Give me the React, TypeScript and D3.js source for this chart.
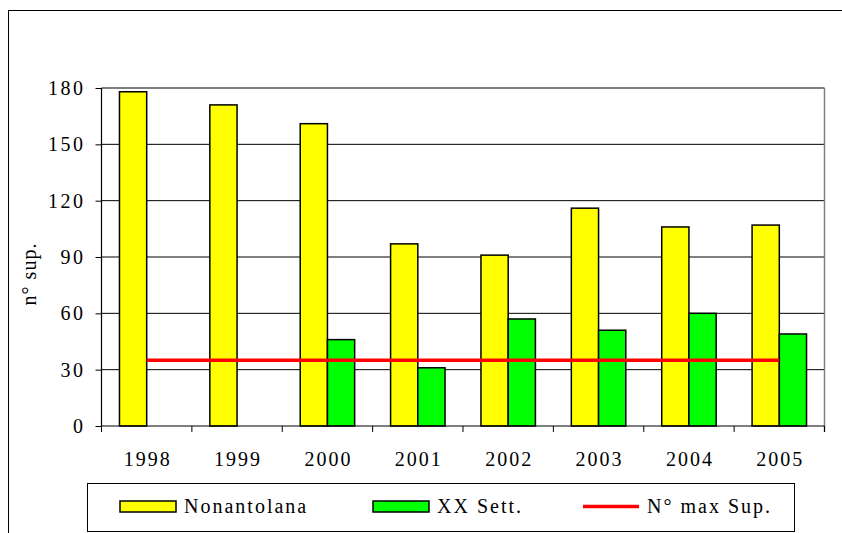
import React, { useEffect, useRef } from 'react';
import * as d3 from 'd3';

const years = ['1998', '1999', '2000', '2001', '2002', '2003', '2004', '2005'];
const nonantolana = [178, 171, 161, 97, 91, 116, 106, 107];
const xxSett: (number | null)[] = [null, null, 46, 31, 57, 51, 60, 49];
const maxSup = [35, 35, 35, 35, 35, 35, 35, 35];
const yTicks = [0, 30, 60, 90, 120, 150, 180];

const seriesNames = ['Nonantolana', 'XX Sett.'];
const seriesColors = ['#ffff00', '#00ff00'];
const lineName = 'N° max Sup.';
const lineColor = '#ff0000';

const W = 842;
const H = 533;
const FONT = 'Liberation Serif, Tinos, DejaVu Serif, serif';

const App: React.FC = () => {
  const svgRef = useRef<SVGSVGElement>(null);

  useEffect(() => {
    if (!svgRef.current) return;
    document.body.style.margin = '0';

    const svg = d3.select(svgRef.current);
    svg.selectAll('*').remove();
    svg.attr('font-family', FONT);

    const plot = { left: 101.5, right: 824.5, top: 88, bottom: 426 };

    // outer chart frame (runs off the right edge)
    svg.append('rect')
      .attr('x', 8.5).attr('y', 10.5)
      .attr('width', W).attr('height', H)
      .attr('fill', 'white')
      .attr('stroke', '#000').attr('stroke-width', 1);

    const x0 = d3.scaleBand<string>()
      .domain(years)
      .range([plot.left, plot.right]);

    const x1 = d3.scaleBand<string>()
      .domain(seriesNames)
      .range([0, x0.bandwidth()])
      .paddingInner(0)
      .paddingOuter(0.66);

    const y = d3.scaleLinear()
      .domain([0, 180])
      .range([plot.bottom, plot.top]);

    // gridlines
    svg.append('g')
      .selectAll('line')
      .data(yTicks.filter(t => t > 0))
      .enter().append('line')
      .attr('x1', plot.left).attr('x2', plot.right)
      .attr('y1', d => y(d)).attr('y2', d => y(d))
      .attr('stroke', '#000').attr('stroke-width', 1);

    // right border of plot area
    svg.append('line')
      .attr('x1', plot.right).attr('x2', plot.right)
      .attr('y1', plot.top).attr('y2', plot.bottom + 6)
      .attr('stroke', '#808080').attr('stroke-width', 1.5);

    // bars
    const drawBars = (vals: (number | null)[], si: number) => {
      svg.append('g')
        .selectAll('rect')
        .data(years.map((yr, i) => ({ yr, v: vals[i] })).filter(d => d.v != null))
        .enter().append('rect')
        .attr('x', d => (x0(d.yr) || 0) + (x1(seriesNames[si]) || 0))
        .attr('y', d => y(d.v as number))
        .attr('width', x1.bandwidth())
        .attr('height', d => plot.bottom - y(d.v as number))
        .attr('fill', seriesColors[si])
        .attr('stroke', '#000')
        .attr('stroke-width', 1.5);
    };
    drawBars(nonantolana, 0);
    drawBars(xxSett, 1);

    // max line
    const line = d3.line<number>()
      .x((_, i) => (x0(years[i]) || 0) + x0.bandwidth() / 2)
      .y(d => y(d));
    svg.append('path')
      .datum(maxSup)
      .attr('d', line)
      .attr('fill', 'none')
      .attr('stroke', lineColor)
      .attr('stroke-width', 3.5);

    // y axis
    const yAxis = svg.append('g')
      .attr('transform', `translate(${plot.left},0)`)
      .call(d3.axisLeft(y).tickValues(yTicks).tickSize(6).tickPadding(8).tickFormat(d3.format('d')));
    yAxis.attr('font-family', FONT);
    yAxis.select('.domain').attr('stroke', '#000').attr('stroke-width', 1.2)
      .attr('d', `M0,${plot.top}V${plot.bottom}`);
    yAxis.selectAll('.tick line').attr('stroke', '#000');
    yAxis.selectAll('.tick text')
      .attr('fill', '#000')
      .attr('x', -16)
      .attr('font-family', FONT)
      .attr('font-size', 20)
      .attr('letter-spacing', 2.5);

    // x axis with ticks at category boundaries
    const xg = svg.append('g');
    xg.append('line')
      .attr('x1', plot.left).attr('x2', plot.right)
      .attr('y1', plot.bottom).attr('y2', plot.bottom)
      .attr('stroke', '#000').attr('stroke-width', 1.2);
    xg.selectAll('.xt')
      .data([...years.map(yr => x0(yr) || 0), plot.right])
      .enter().append('line')
      .attr('x1', d => d).attr('x2', d => d)
      .attr('y1', plot.bottom).attr('y2', plot.bottom + 6)
      .attr('stroke', '#000');
    xg.selectAll('text')
      .data(years)
      .enter().append('text')
      .attr('x', d => (x0(d) || 0) + x0.bandwidth() / 2 + 1)
      .attr('y', 466)
      .attr('text-anchor', 'middle')
      .attr('font-size', 20)
      .attr('letter-spacing', 2)
      .text(d => d);

    // y axis title
    svg.append('text')
      .attr('transform', `translate(36,274) rotate(-90)`)
      .attr('text-anchor', 'middle')
      .attr('font-size', 20)
      .attr('letter-spacing', 1)
      .text('n° sup.');

    // legend
    const lg = svg.append('g');
    lg.append('rect')
      .attr('x', 87.5).attr('y', 483.5)
      .attr('width', 707).attr('height', 48)
      .attr('fill', 'white')
      .attr('stroke', '#000').attr('stroke-width', 1);

    const legendItems = [
      { name: seriesNames[0], kind: 'rect', color: seriesColors[0], sx: 120, tx: 184 },
      { name: seriesNames[1], kind: 'rect', color: seriesColors[1], sx: 373, tx: 437 },
      { name: lineName, kind: 'line', color: lineColor, sx: 583, tx: 647 },
    ];
    legendItems.forEach(it => {
      if (it.kind === 'rect') {
        lg.append('rect')
          .attr('x', it.sx).attr('y', 501)
          .attr('width', 56).attr('height', 11)
          .attr('fill', it.color)
          .attr('stroke', '#000').attr('stroke-width', 1.5);
      } else {
        lg.append('line')
          .attr('x1', it.sx).attr('x2', it.sx + 56)
          .attr('y1', 506.5).attr('y2', 506.5)
          .attr('stroke', it.color).attr('stroke-width', 3.5);
      }
      lg.append('text')
        .attr('x', it.tx).attr('y', 513)
        .attr('font-size', 20)
        .attr('letter-spacing', 2)
        .text(it.name);
    });
  }, []);

  return (
    <svg
      ref={svgRef}
      width={W}
      height={H}
      style={{ position: 'absolute', left: 0, top: 0, background: 'white' }}
    />
  );
};

export default App;
